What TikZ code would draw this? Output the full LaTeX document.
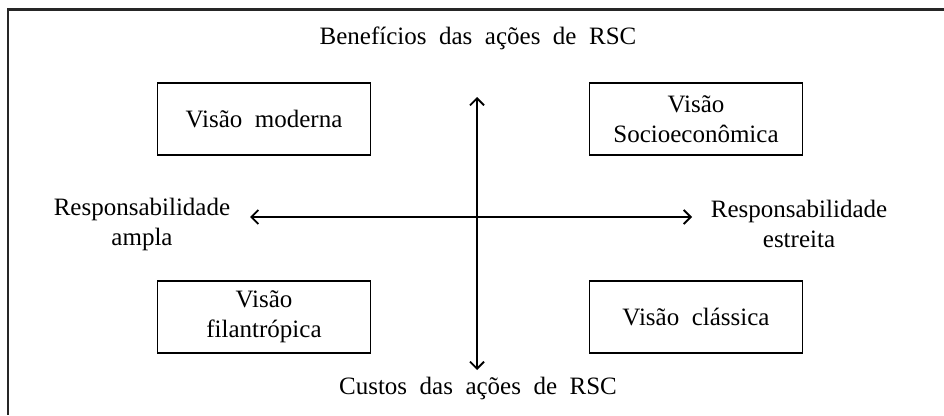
\documentclass[tikz,border=0pt]{standalone}
\usepackage{fontspec}
\setmainfont{Liberation Serif}[WordSpace=2]
\usetikzlibrary{arrows.meta}
\tikzset{
  vbox/.style={draw, line width=1.2pt, minimum width=213pt, minimum height=72pt, inner sep=0pt, align=center, font=\fontsize{25}{30}\selectfont},
  lbl/.style={align=center, inner sep=0pt, font=\fontsize{25}{30}\selectfont},
  axis/.style={line width=1.8pt, {Straight Barb[length=7pt,width=14pt,line width=1.8pt]}-{Straight Barb[length=7pt,width=14pt,line width=1.8pt]}},
  frame/.style={line width=2.6pt, draw=black!85}
}
\begin{document}
\begin{tikzpicture}[x=1pt,y=-1pt]
\useasboundingbox (0,0) rectangle (944,415);
\coordinate (fr) at (944,9.5);
\coordinate (fc) at (8,9.5);
\coordinate (fb) at (8,415);
\draw[frame] (fr) -- (fc) -- (fb);
\node[lbl] (top) at (478,38) {Benefícios das ações de RSC};
\node[lbl] (bot) at (478,388) {Custos das ações de RSC};
\node[vbox] (mod) at (264,119) {Visão moderna};
\node[vbox] (soc) at (696,119) {Visão\\Socioeconômica};
\node[vbox] (fil) at (264,317) {Visão\\filantrópica};
\node[vbox] (cla) at (696,317) {Visão clássica};
\node[lbl] (amp) at (142,224) {Responsabilidade\\ampla};
\node[lbl] (est) at (799,224) {Responsabilidade\\estreita};
\coordinate (vt) at (477,97);
\coordinate (vb) at (477,370);
\coordinate (hl) at (250,217);
\coordinate (hr) at (692,217);
\draw[axis] (vt) -- (vb);
\draw[axis] (hl) -- (hr);
\end{tikzpicture}
\end{document}
